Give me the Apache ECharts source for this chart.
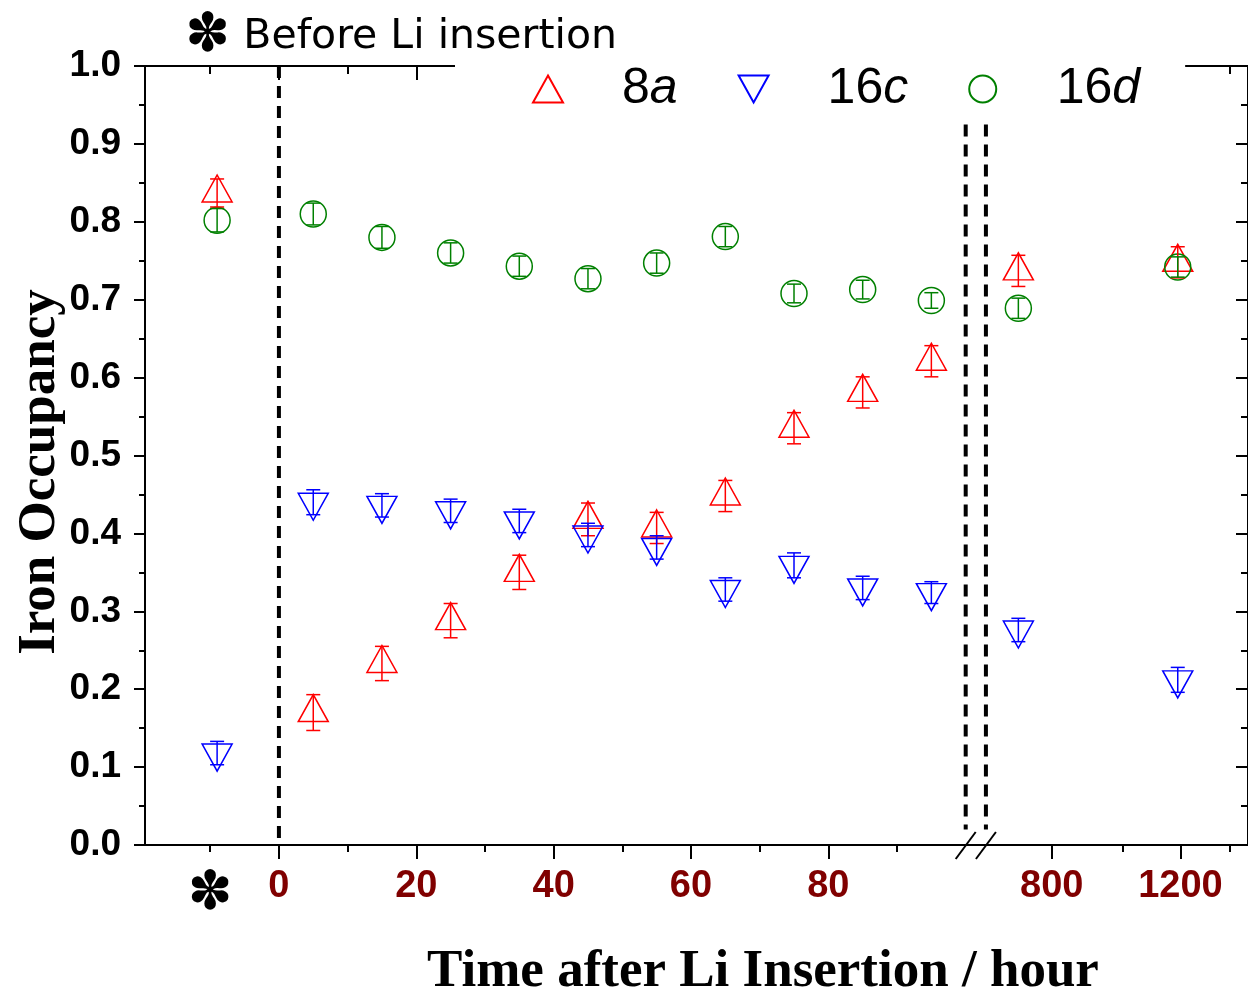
<!DOCTYPE html>
<html>
<head>
<meta charset="utf-8">
<script src="https://cdn.jsdelivr.net/npm/echarts@6/dist/echarts.min.js"></script>
<style>
  html, body { margin: 0; padding: 0; background: #fff; }
  #chart { width: 1248px; height: 993px; }
</style>
</head>
<body>
<div id="chart"></div>
<script>
// Iron occupancy of the 8a / 16c / 16d spinel sites versus time after Li insertion.
// Left panel: the "before insertion" column plus 0-100 h (linear);
// right panel: late times on a logarithmic hour axis, separated by an axis break.

const BEFORE_LABEL_POS = -10;           // x position of the "before" tick label
const BEFORE_POS = -9;                  // x position of the "before Li insertion" points
const earlyHours = [5, 15, 25, 35, 45, 55, 65, 75, 85, 95];
const lateHours = [720, 1190];

// 8a site
const fe8aBefore = 0.837, fe8aBeforeErr = 0.018;
const fe8aEarly = [0.170, 0.233, 0.288, 0.350, 0.418, 0.407, 0.448, 0.535, 0.581, 0.621];
const fe8aEarlyErr = [0.023, 0.022, 0.022, 0.022, 0.021, 0.020, 0.020, 0.020, 0.020, 0.020];
const fe8aLate = [0.737, 0.748];
const fe8aLateErr = [0.020, 0.020];

// 16c site
const fe16cBefore = 0.118, fe16cBeforeErr = 0.015;
const fe16cEarly = [0.440, 0.436, 0.429, 0.416, 0.398, 0.382, 0.328, 0.359, 0.330, 0.324];
const fe16cEarlyErr = [0.016, 0.015, 0.015, 0.015, 0.015, 0.015, 0.015, 0.016, 0.015, 0.014];
const fe16cLate = [0.276, 0.212];
const fe16cLateErr = [0.015, 0.016];

// 16d site
const fe16dBefore = 0.802, fe16dBeforeErr = 0.015;
const fe16dEarly = [0.810, 0.780, 0.760, 0.743, 0.727, 0.747, 0.781, 0.708, 0.713, 0.699];
const fe16dEarlyErr = [0.014, 0.014, 0.013, 0.013, 0.013, 0.013, 0.013, 0.012, 0.012, 0.010];
const fe16dLate = [0.689, 0.742];
const fe16dLateErr = [0.013, 0.013];

// axis ticks
const earlyMajorTicks = [0, 20, 40, 60, 80];
const earlyMinorTicks = [-10, 10, 30, 50, 70, 90];
const earlyLabels = [BEFORE_LABEL_POS, 0, 20, 40, 60, 80];
const lateMajorTicks = [800, 1200];
const lateMinorTicks = [1000, 1400];
const EARLY_MIN = -19.5, EARLY_MAX = 101.5;
const LATE_MIN = 630, LATE_MAX = 1485;
const BREAK_FROM = 100, BREAK_TO = 650;  // hours where the axis break is drawn
const BREAK_TOP = 0.925;                 // top of the dashed break lines (occupancy units)

const legendNames = ['8a', '16c', '16d'];
const COLORS = { '8a': '#ff0000', '16c': '#0000ff', '16d': '#008000' };

const lg = h => Math.log10(h);

const SANS = '"Liberation Sans", Arial, sans-serif';
const SERIF = '"Liberation Serif", "Times New Roman", serif';
const DINGBAT = '"DejaVu Sans", sans-serif';

const SYMBOLS = {
  '8a': { symbol: 'path://M15,0 L30,27 L0,27 Z', size: [30, 27], offset: [0, -4.5] },
  '16c': { symbol: 'path://M0,0 L30,0 L15,27 Z', size: [30, 27], offset: [0, 4.5] },
  '16d': { symbol: 'circle', size: 26, offset: [0, 0] }
};

const chart = echarts.init(document.getElementById('chart'), null, { renderer: 'canvas' });

function xAxesFor(gridIndex, min, max, major, minor, labels, fmt) {
  const line = { show: true, onZero: false, lineStyle: { color: '#000', width: 2 } };
  const noLine = { show: false, onZero: false };
  const base = { type: 'value', gridIndex, min, max, splitLine: { show: false } };
  return [
    Object.assign({}, base, {
      position: 'bottom', axisLine: line,
      axisTick: { show: true, customValues: major, length: 14, lineStyle: { color: '#000', width: 2 } },
      axisLabel: {
        show: true, customValues: labels, formatter: fmt, margin: 23,
        color: '#800000', fontFamily: SANS, fontWeight: 'bold', fontSize: 38,
        rich: { s: { fontFamily: DINGBAT, fontSize: 54, color: '#000', fontWeight: 'bold' } }
      }
    }),
    Object.assign({}, base, {
      position: 'bottom', axisLine: noLine,
      axisTick: { show: true, customValues: minor, length: 7, lineStyle: { color: '#000', width: 2 } },
      axisLabel: { show: false }
    }),
    Object.assign({}, base, {
      position: 'top', axisLine: line,
      axisTick: { show: true, inside: true, customValues: major, length: 14, lineStyle: { color: '#000', width: 2 } },
      axisLabel: { show: false }
    }),
    Object.assign({}, base, {
      position: 'top', axisLine: noLine,
      axisTick: { show: true, inside: true, customValues: minor, length: 8, lineStyle: { color: '#000', width: 2 } },
      axisLabel: { show: false }
    })
  ];
}

const xAxis = [].concat(
  xAxesFor(0, EARLY_MIN, EARLY_MAX, earlyMajorTicks, earlyMinorTicks, earlyLabels,
    v => (v === BEFORE_LABEL_POS ? '{s|\u273D}' : String(v))),
  xAxesFor(1, lg(LATE_MIN), lg(LATE_MAX), lateMajorTicks.map(lg), lateMinorTicks.map(lg),
    lateMajorTicks.map(lg), v => String(Math.round(Math.pow(10, v))))
);

const yAxis = [
  {
    type: 'value', gridIndex: 0, position: 'left', min: 0, max: 1, interval: 0.1,
    axisLine: { show: true, onZero: false, lineStyle: { color: '#000', width: 2 } },
    axisTick: { show: true, length: 11, lineStyle: { color: '#000', width: 2 } },
    minorTick: { show: true, splitNumber: 2, length: 6, lineStyle: { color: '#000', width: 2 } },
    axisLabel: {
      margin: 24, color: '#000', fontFamily: SANS, fontWeight: 'bold', fontSize: 37,
      formatter: v => v.toFixed(1)
    },
    splitLine: { show: false }
  },
  {
    type: 'value', gridIndex: 1, position: 'right', min: 0, max: 1, interval: 0.1,
    axisLine: { show: true, onZero: false, lineStyle: { color: '#000', width: 2 } },
    axisTick: { show: true, inside: true, length: 12, lineStyle: { color: '#000', width: 2 } },
    minorTick: { show: true, splitNumber: 2, length: 7, lineStyle: { color: '#000', width: 2 } },
    axisLabel: { show: false },
    splitLine: { show: false }
  }
];

function scatter(name, data, xAxisIndex, yAxisIndex) {
  const s = SYMBOLS[name];
  return {
    type: 'scatter', name, data, xAxisIndex, yAxisIndex,
    symbol: s.symbol, symbolSize: s.size, symbolOffset: s.offset,
    itemStyle: { color: 'rgba(0,0,0,0)', borderColor: COLORS[name], borderWidth: 1.5, opacity: 1 },
    emphasis: { disabled: true }, z: 3
  };
}

function errorBars(name, data, xAxisIndex, yAxisIndex) {
  const color = COLORS[name];
  return {
    type: 'custom', name, data, xAxisIndex, yAxisIndex, z: 4, silent: true,
    encode: { x: 0, y: 1 },
    renderItem: (params, api) => {
      const x = api.value(0), y = api.value(1), e = api.value(2);
      const hi = api.coord([x, y + e]), lo = api.coord([x, y - e]);
      const w = 7;
      const st = { stroke: color, lineWidth: 1.5 };
      return {
        type: 'group',
        children: [
          { type: 'line', shape: { x1: hi[0], y1: hi[1], x2: lo[0], y2: lo[1] }, style: st },
          { type: 'line', shape: { x1: hi[0] - w, y1: hi[1], x2: hi[0] + w, y2: hi[1] }, style: st },
          { type: 'line', shape: { x1: lo[0] - w, y1: lo[1], x2: lo[0] + w, y2: lo[1] }, style: st }
        ]
      };
    }
  };
}

// vertical dashed guide at t = 0 (full height)
function zeroGuide() {
  return {
    type: 'custom', name: 'guide', data: [[0, 0]], xAxisIndex: 0, yAxisIndex: 0, z: 2, silent: true,
    renderItem: (params, api) => {
      const x = api.value(0);
      const a = api.coord([x, 1]), b = api.coord([x, 0]);
      return { type: 'line', shape: { x1: a[0], y1: a[1], x2: b[0], y2: b[1] },
        style: { stroke: '#000', lineWidth: 4, lineDash: [12, 8] } };
    }
  };
}

// dashed break line with a slash across the bottom axis
function breakGuide(xValue, xAxisIndex, yAxisIndex) {
  return {
    type: 'custom', name: 'break', data: [[xValue, 0]], xAxisIndex, yAxisIndex, z: 2, silent: true,
    renderItem: (params, api) => {
      const x = api.value(0);
      const a = api.coord([x, BREAK_TOP]), b = api.coord([x, 0.02]), c = api.coord([x, 0]);
      return {
        type: 'group',
        children: [
          { type: 'line', shape: { x1: a[0], y1: a[1], x2: b[0], y2: b[1] },
            style: { stroke: '#000', lineWidth: 4, lineDash: [12, 8] } },
          { type: 'line', shape: { x1: c[0] - 10, y1: c[1] + 14, x2: c[0] + 10, y2: c[1] - 13 },
            style: { stroke: '#000', lineWidth: 2 } }
        ]
      };
    }
  };
}

function earlyData(before, early) {
  return [[BEFORE_POS, before]].concat(earlyHours.map((h, i) => [h, early[i]]));
}
function earlyErr(before, beforeErr, early, err) {
  return [[BEFORE_POS, before, beforeErr]].concat(earlyHours.map((h, i) => [h, early[i], err[i]]));
}
function lateData(late) { return lateHours.map((h, i) => [lg(h), late[i]]); }
function lateErr(late, err) { return lateHours.map((h, i) => [lg(h), late[i], err[i]]); }

const sites = [
  ['8a', fe8aBefore, fe8aBeforeErr, fe8aEarly, fe8aEarlyErr, fe8aLate, fe8aLateErr],
  ['16c', fe16cBefore, fe16cBeforeErr, fe16cEarly, fe16cEarlyErr, fe16cLate, fe16cLateErr],
  ['16d', fe16dBefore, fe16dBeforeErr, fe16dEarly, fe16dEarlyErr, fe16dLate, fe16dLateErr]
];

const series = [];
sites.forEach(([name, b, be, e, ee, l, le]) => {
  series.push(scatter(name, earlyData(b, e), 0, 0));
  series.push(scatter(name, lateData(l), 4, 1));
});
sites.forEach(([name, b, be, e, ee, l, le]) => {
  series.push(errorBars(name, earlyErr(b, be, e, ee), 0, 0));
  series.push(errorBars(name, lateErr(l, le), 4, 1));
});
series.push(zeroGuide());
series.push(breakGuide(BREAK_FROM, 0, 0));
series.push(breakGuide(lg(BREAK_TO), 4, 1));

const option = {
  animation: false,
  backgroundColor: '#fff',
  grid: [
    { left: 145, top: 66, width: 831, height: 779 },
    { left: 976, top: 66, width: 275, height: 779 }
  ],
  title: {
    text: '{s|\u273D} Before Li insertion',
    left: 185, top: 10, padding: 0,
    textStyle: {
      fontFamily: DINGBAT, fontSize: 41, fontWeight: 'normal', color: '#000',
      rich: { s: { fontFamily: DINGBAT, fontSize: 54, fontWeight: 'bold', color: '#000' } }
    }
  },
  legend: {
    data: legendNames,
    left: 455, top: 60,
    orient: 'horizontal',
    padding: [4, 45, 4, 77],
    itemGap: 60, itemWidth: 30, itemHeight: 27,
    backgroundColor: '#fff',
    selectedMode: false,
    formatter: n => n.replace(/([a-z])$/, '{i|$1}'),
    textStyle: {
      fontFamily: SANS, fontSize: 50, color: '#000', padding: [0, 0, 0, 54],
      rich: { i: { fontFamily: SANS, fontSize: 50, fontStyle: 'italic', color: '#000' } }
    }
  },
  graphic: [
    {
      type: 'text', x: 763, y: 972, silent: true,
      style: { text: 'Time after Li Insertion / hour', font: 'bold 53px ' + SERIF,
        fill: '#000', textAlign: 'center', textVerticalAlign: 'middle' }
    },
    {
      type: 'text', x: 40, y: 472, rotation: Math.PI / 2, silent: true,
      style: { text: 'Iron Occupancy', font: 'bold 53px ' + SERIF,
        fill: '#000', textAlign: 'center', textVerticalAlign: 'middle' }
    }
  ],
  xAxis,
  yAxis,
  series
};

chart.setOption(option);
</script>
</body>
</html>
